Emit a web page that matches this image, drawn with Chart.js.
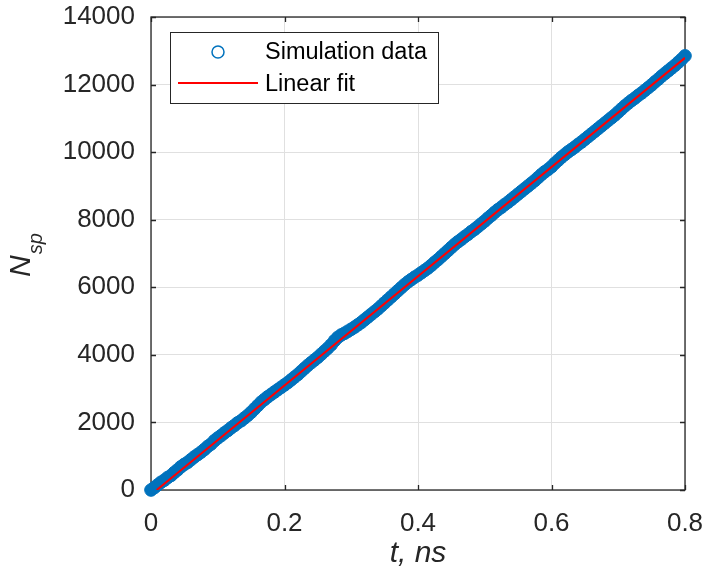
<!DOCTYPE html>
<html>
<head>
<meta charset="utf-8">
<script src="https://cdn.jsdelivr.net/npm/chart.js@4.4.1/dist/chart.umd.min.js"></script>
<style>
    html, body { margin: 0; padding: 0; background: #fff; }
    #wrap { width: 705px; height: 576px; position: relative; }
</style>
</head>
<body>
<div id="wrap"><canvas id="nspChart" width="705" height="576"></canvas></div>
<script>
// Simulation samples: time (ns) and particle count
const simT = [
    0.000, 0.005, 0.010, 0.015, 0.020, 0.025, 0.030, 0.035, 0.040, 0.045,
    0.050, 0.055, 0.060, 0.065, 0.070, 0.075, 0.080, 0.085, 0.090, 0.095,
    0.100, 0.105, 0.110, 0.115, 0.120, 0.125, 0.130, 0.135, 0.140, 0.145,
    0.150, 0.155, 0.160, 0.165, 0.170, 0.175, 0.180, 0.185, 0.190, 0.195,
    0.200, 0.205, 0.210, 0.215, 0.220, 0.225, 0.230, 0.235, 0.240, 0.245,
    0.250, 0.255, 0.260, 0.265, 0.270, 0.275, 0.280, 0.285, 0.290, 0.295,
    0.300, 0.305, 0.310, 0.315, 0.320, 0.325, 0.330, 0.335, 0.340, 0.345,
    0.350, 0.355, 0.360, 0.365, 0.370, 0.375, 0.380, 0.385, 0.390, 0.395,
    0.400, 0.405, 0.410, 0.415, 0.420, 0.425, 0.430, 0.435, 0.440, 0.445,
    0.450, 0.455, 0.460, 0.465, 0.470, 0.475, 0.480, 0.485, 0.490, 0.495,
    0.500, 0.505, 0.510, 0.515, 0.520, 0.525, 0.530, 0.535, 0.540, 0.545,
    0.550, 0.555, 0.560, 0.565, 0.570, 0.575, 0.580, 0.585, 0.590, 0.595,
    0.600, 0.605, 0.610, 0.615, 0.620, 0.625, 0.630, 0.635, 0.640, 0.645,
    0.650, 0.655, 0.660, 0.665, 0.670, 0.675, 0.680, 0.685, 0.690, 0.695,
    0.700, 0.705, 0.710, 0.715, 0.720, 0.725, 0.730, 0.735, 0.740, 0.745,
    0.750, 0.755, 0.760, 0.765, 0.770, 0.775, 0.780, 0.785, 0.790, 0.795,
    0.800
];
const simN = [
    0, 70, 150, 230, 290, 370, 430, 520, 600, 690,
    760, 820, 900, 980, 1050, 1120, 1200, 1290, 1360, 1460,
    1540, 1610, 1690, 1760, 1840, 1910, 1990, 2050, 2130, 2210,
    2300, 2400, 2500, 2600, 2680, 2760, 2830, 2900, 2970, 3040,
    3110, 3180, 3260, 3340, 3420, 3510, 3600, 3690, 3770, 3850,
    3930, 4020, 4110, 4200, 4300, 4420, 4520, 4590, 4640, 4700,
    4760, 4820, 4890, 4960, 5040, 5120, 5200, 5280, 5360, 5450,
    5540, 5630, 5720, 5810, 5900, 5990, 6080, 6160, 6230, 6300,
    6360, 6430, 6500, 6570, 6650, 6740, 6820, 6910, 7000, 7090,
    7180, 7270, 7350, 7420, 7500, 7570, 7650, 7720, 7800, 7880,
    7960, 8050, 8130, 8220, 8300, 8370, 8450, 8520, 8600, 8680,
    8760, 8840, 8920, 9000, 9080, 9160, 9250, 9340, 9420, 9490,
    9570, 9670, 9760, 9850, 9930, 10010, 10080, 10150, 10230, 10300,
    10380, 10460, 10540, 10620, 10700, 10780, 10860, 10940, 11020, 11100,
    11190, 11280, 11370, 11450, 11530, 11600, 11680, 11750, 11830, 11910,
    11990, 12080, 12160, 12250, 12330, 12410, 12490, 12570, 12660, 12750,
    12850
];

// Linear fit end points
const fitT = [0.0085, 0.8];
const fitN = [0, 12790];

// Axis ticks
const xTicks = [0, 0.2, 0.4, 0.6, 0.8];
const yTicks = [0, 2000, 4000, 6000, 8000, 10000, 12000, 14000];

const legendLabels = ['Simulation data', 'Linear fit'];

const AXIS_COLOR = '#262626';
const BLUE = '#0072BD';
const FONT = "Arial, 'Liberation Sans', Helvetica, sans-serif";

// Box outline plus inward ticks on all four sides, drawn under the data
const boxPlugin = {
    id: 'boxPlugin',
    beforeDatasetsDraw(chart) {
        const { ctx, chartArea: a, scales } = chart;
        const len = 5;
        ctx.save();
        ctx.strokeStyle = AXIS_COLOR;
        ctx.lineWidth = 1.3;
        ctx.beginPath();
        xTicks.forEach(v => {
            const px = Math.round(scales.x.getPixelForValue(v)) + 0.5;
            ctx.moveTo(px, a.bottom); ctx.lineTo(px, a.bottom - len);
            ctx.moveTo(px, a.top); ctx.lineTo(px, a.top + len);
        });
        yTicks.forEach(v => {
            const py = Math.round(scales.y.getPixelForValue(v)) + 0.5;
            ctx.moveTo(a.left, py); ctx.lineTo(a.left + len, py);
            ctx.moveTo(a.right, py); ctx.lineTo(a.right - len, py);
        });
        ctx.stroke();
        ctx.strokeRect(a.left, a.top, a.right - a.left, a.bottom - a.top);
        ctx.restore();
    }
};

// Axis titles and the legend box
const labelPlugin = {
    id: 'labelPlugin',
    afterDraw(chart) {
        const { ctx, chartArea: a } = chart;
        ctx.save();
        ctx.fillStyle = AXIS_COLOR;

        // x title
        ctx.font = `italic 30px ${FONT}`;
        ctx.textAlign = 'center';
        ctx.textBaseline = 'alphabetic';
        ctx.fillText('t, ns', (a.left + a.right) / 2, 562);

        // y title with subscript
        ctx.save();
        ctx.translate(30, 277);
        ctx.rotate(-Math.PI / 2);
        ctx.textAlign = 'left';
        ctx.font = `italic 30px ${FONT}`;
        ctx.fillText('N', 0, 0);
        const wN = ctx.measureText('N').width;
        ctx.font = `italic 20px ${FONT}`;
        ctx.fillText('sp', wN + 1, 12);
        ctx.restore();

        // legend
        const lx = 170, ly = 32, lw = 268, lh = 71;
        ctx.fillStyle = '#fff';
        ctx.fillRect(lx, ly, lw, lh);
        ctx.strokeStyle = AXIS_COLOR;
        ctx.lineWidth = 1;
        ctx.strokeRect(lx + 0.5, ly + 0.5, lw, lh);

        ctx.strokeStyle = BLUE;
        ctx.lineWidth = 1.5;
        ctx.beginPath();
        ctx.arc(218, 52, 6, 0, Math.PI * 2);
        ctx.stroke();

        ctx.strokeStyle = '#ff0000';
        ctx.lineWidth = 2;
        ctx.beginPath();
        ctx.moveTo(178, 83);
        ctx.lineTo(258, 83);
        ctx.stroke();

        ctx.fillStyle = '#000';
        ctx.font = `23.5px ${FONT}`;
        ctx.textAlign = 'left';
        ctx.textBaseline = 'middle';
        ctx.fillText(legendLabels[0], 265, 53);
        ctx.fillText(legendLabels[1], 265, 85);
        ctx.restore();
    }
};

const ctx = document.getElementById('nspChart').getContext('2d');
const nspChart = new Chart(ctx, {
    type: 'scatter',
    data: {
        datasets: [
            {
                label: legendLabels[1],
                data: fitT.map((t, i) => ({ x: t, y: fitN[i] })),
                showLine: true,
                borderColor: '#ff0000',
                borderWidth: 2,
                pointRadius: 0,
                order: 0
            },
            {
                label: legendLabels[0],
                data: simT.map((t, i) => ({ x: t, y: simN[i] })),
                backgroundColor: BLUE,
                borderColor: BLUE,
                borderWidth: 1,
                pointRadius: 6.3,
                clip: false,
                order: 1
            }
        ]
    },
    options: {
        responsive: false,
        animation: false,
        events: [],
        layout: { padding: { left: 0, top: 17, right: 20, bottom: 0 } },
        plugins: {
            legend: { display: false },
            tooltip: { enabled: false }
        },
        scales: {
            x: {
                type: 'linear',
                min: 0,
                max: 0.8,
                afterBuildTicks: s => { s.ticks = xTicks.map(v => ({ value: v })); },
                afterFit: s => {
                    s.height = 86;
                    s.paddingLeft = 0;
                    s.paddingRight = 0;
                },
                border: { display: false },
                grid: { color: '#e0e0e0', lineWidth: 1, drawTicks: false },
                ticks: {
                    padding: 18,
                    color: AXIS_COLOR,
                    font: { family: FONT, size: 26 },
                    maxRotation: 0,
                    callback: v => String(parseFloat(v.toFixed(1)))
                }
            },
            y: {
                type: 'linear',
                min: 0,
                max: 14000,
                afterBuildTicks: s => { s.ticks = yTicks.map(v => ({ value: v })); },
                afterFit: s => {
                    s.width = 151;
                    s.paddingTop = 0;
                    s.paddingBottom = 0;
                },
                border: { display: false },
                grid: { color: '#e0e0e0', lineWidth: 1, drawTicks: false },
                ticks: {
                    padding: 16,
                    color: AXIS_COLOR,
                    font: { family: FONT, size: 26 },
                    callback: v => String(v)
                }
            }
        }
    },
    plugins: [boxPlugin, labelPlugin]
});
</script>
</body>
</html>
